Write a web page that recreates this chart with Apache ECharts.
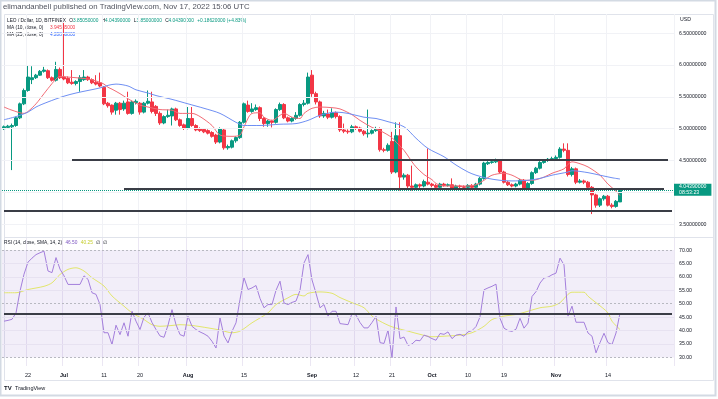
<!DOCTYPE html>
<html>
<head>
<meta charset="utf-8">
<title>LEO / Dollar, 1D</title>
<script src="https://cdn.jsdelivr.net/npm/echarts@6.0.0/dist/echarts.min.js"></script>
<style>
  html, body { margin: 0; padding: 0; background: #fff; }
  #chart { width: 718px; height: 399px; }
</style>
</head>
<body>
<div id="chart"></div>
<script>
// daily candles, LEO/USD (Bitfinex), 16 Jun 2022 .. 17 Nov 2022
const opens = [
  5.00, 5.02, 5.03, 5.05, 5.17, 5.39, 5.60, 5.77, 5.80, 5.84,
  5.90, 5.91, 5.80, 5.76, 5.93, 5.81, 5.79, 5.73, 5.71, 5.74,
  5.77, 5.81, 5.77, 5.73, 5.72, 5.65, 5.40, 5.37, 5.29, 5.40,
  5.31, 5.42, 5.24, 5.41, 5.40, 5.26, 5.40, 5.42, 5.35, 5.24,
  5.09, 5.19, 5.20, 5.31, 5.14, 5.06, 5.01, 5.16, 5.05, 5.00,
  4.99, 4.97, 4.94, 4.90, 4.79, 4.98, 4.70, 4.71, 4.81, 4.86,
  5.10, 5.37, 5.27, 5.30, 5.33, 5.16, 5.08, 5.12, 5.10, 5.30,
  5.38, 5.17, 5.12, 5.16, 5.21, 5.38, 5.40, 5.84, 5.55, 5.42,
  5.20, 5.23, 5.18, 5.25, 5.19, 4.98, 4.96, 4.95, 5.03, 5.01,
  4.96, 4.92, 4.93, 4.97, 5.00, 4.67, 4.66, 4.80, 4.32, 4.89,
  4.24, 4.27, 4.10, 4.08, 4.12, 4.10, 4.16, 4.13, 4.11, 4.08,
  4.13, 4.11, 4.12, 4.07, 4.10, 4.09, 4.08, 4.11, 4.08, 4.13,
  4.22, 4.45, 4.47, 4.48, 4.50, 4.32, 4.16, 4.12, 4.10, 4.13,
  4.19, 4.07, 4.14, 4.31, 4.38, 4.47, 4.50, 4.52, 4.53, 4.55,
  4.68, 4.66, 4.28, 4.37, 4.16, 4.18, 4.16, 4.08, 3.96, 3.80,
  3.90, 3.94, 3.80, 3.78, 3.8505
];
const closes = [
  5.03, 5.04, 5.05, 5.17, 5.39, 5.60, 5.81, 5.80, 5.84, 5.90,
  5.92, 5.80, 5.76, 5.93, 5.80, 5.78, 5.72, 5.71, 5.74, 5.80,
  5.81, 5.77, 5.72, 5.70, 5.67, 5.39, 5.36, 5.26, 5.40, 5.30,
  5.40, 5.24, 5.42, 5.43, 5.26, 5.40, 5.43, 5.27, 5.24, 5.09,
  5.19, 5.21, 5.31, 5.14, 5.05, 5.01, 5.16, 5.05, 4.98, 4.97,
  4.95, 4.93, 4.88, 4.79, 5.00, 4.70, 4.72, 4.81, 4.86, 5.10,
  5.39, 5.27, 5.31, 5.33, 5.16, 5.08, 5.12, 5.10, 5.30, 5.38,
  5.17, 5.12, 5.16, 5.21, 5.38, 5.40, 5.81, 5.55, 5.42, 5.20,
  5.24, 5.18, 5.25, 5.19, 4.98, 4.96, 4.95, 5.03, 5.01, 4.96,
  4.92, 4.93, 4.97, 5.00, 4.67, 4.66, 4.74, 4.32, 4.89, 4.24,
  4.27, 4.10, 4.08, 4.12, 4.10, 4.17, 4.13, 4.11, 4.08, 4.13,
  4.11, 4.12, 4.07, 4.10, 4.09, 4.08, 4.11, 4.08, 4.13, 4.22,
  4.46, 4.47, 4.48, 4.50, 4.32, 4.16, 4.12, 4.10, 4.13, 4.19,
  4.07, 4.14, 4.31, 4.38, 4.47, 4.50, 4.52, 4.53, 4.55, 4.68,
  4.66, 4.28, 4.37, 4.16, 4.18, 4.16, 4.08, 3.96, 3.80, 3.90,
  3.94, 3.80, 3.78, 3.86, 4.0439
];
const highs = [
  5.05, 5.06, 5.08, 5.19, 5.41, 5.63, 5.99, 5.98, 5.86, 5.92,
  5.97, 5.93, 5.82, 6.05, 5.96, 6.66, 5.82, 5.92, 5.76, 5.84,
  5.92, 5.83, 5.79, 5.84, 5.88, 5.67, 5.42, 5.38, 5.42, 5.42,
  5.44, 5.58, 5.44, 5.46, 5.42, 5.42, 5.60, 5.58, 5.37, 5.27,
  5.21, 5.30, 5.33, 5.33, 5.16, 5.08, 5.34, 5.34, 5.07, 5.02,
  5.01, 4.99, 4.96, 4.92, 5.02, 5.00, 4.75, 4.83, 4.88, 5.12,
  5.41, 5.44, 5.40, 5.38, 5.35, 5.18, 5.14, 5.14, 5.32, 5.41,
  5.40, 5.19, 5.18, 5.26, 5.40, 5.45, 5.88, 5.92, 5.58, 5.44,
  5.28, 5.30, 5.32, 5.27, 5.21, 5.08, 4.99, 5.06, 5.05, 5.03,
  4.98, 5.30, 4.99, 5.03, 5.02, 4.70, 4.77, 4.95, 5.10, 5.10,
  4.30, 4.29, 4.42, 4.14, 4.14, 4.20, 4.69, 4.15, 4.13, 4.15,
  4.15, 4.14, 4.22, 4.12, 4.12, 4.11, 4.13, 4.13, 4.15, 4.24,
  4.48, 4.49, 4.50, 4.53, 4.51, 4.34, 4.18, 4.14, 4.15, 4.21,
  4.21, 4.16, 4.33, 4.40, 4.49, 4.52, 4.54, 4.56, 4.58, 4.71,
  4.77, 4.77, 4.40, 4.39, 4.21, 4.20, 4.18, 4.10, 3.98, 3.92,
  3.96, 3.96, 3.83, 3.88, 4.0439
];
const lows = [
  4.98, 5.00, 4.35, 5.03, 5.15, 5.37, 5.58, 5.70, 5.78, 5.83,
  5.88, 5.78, 5.74, 5.74, 5.78, 5.76, 5.70, 5.69, 5.68, 5.58,
  5.75, 5.75, 5.70, 5.68, 5.65, 5.37, 5.33, 5.22, 5.22, 5.22,
  5.28, 5.22, 5.22, 5.38, 5.22, 5.24, 5.38, 5.24, 5.20, 5.06,
  5.07, 5.17, 5.05, 5.12, 5.03, 4.98, 4.99, 5.03, 4.96, 4.95,
  4.93, 4.91, 4.86, 4.76, 4.77, 4.67, 4.67, 4.69, 4.78, 4.84,
  5.08, 5.25, 5.25, 5.28, 5.12, 5.03, 5.03, 5.02, 5.08, 5.28,
  5.15, 5.10, 5.10, 5.14, 5.19, 5.35, 5.38, 5.50, 5.38, 5.17,
  5.17, 5.15, 5.16, 5.16, 4.95, 4.93, 4.92, 4.93, 4.98, 4.94,
  4.89, 4.86, 4.91, 4.95, 4.64, 4.63, 4.64, 4.29, 4.30, 4.03,
  4.20, 4.07, 4.03, 4.05, 4.07, 4.08, 4.11, 4.08, 4.06, 4.06,
  4.09, 4.09, 4.05, 4.05, 4.07, 4.06, 4.06, 4.06, 4.06, 4.11,
  4.20, 4.43, 4.45, 4.46, 4.30, 4.14, 4.10, 4.08, 4.08, 4.11,
  4.05, 4.05, 4.12, 4.29, 4.36, 4.45, 4.48, 4.50, 4.51, 4.53,
  4.63, 4.25, 4.25, 4.13, 4.14, 4.13, 4.05, 3.66, 3.76, 3.77,
  3.87, 3.78, 3.75, 3.76, 3.85
];

// moving averages: [day index, value]
const ma10Points = [
  [0, 5.34], [2, 5.29], [5, 5.24], [6, 5.27], [8, 5.39], [10, 5.55], [11, 5.63],
  [13, 5.78], [14, 5.82], [16, 5.81], [18, 5.80], [21, 5.78], [23, 5.75], [25, 5.70],
  [26, 5.65], [27, 5.62], [29, 5.55], [31, 5.47], [34, 5.37], [36, 5.34], [39, 5.30],
  [42, 5.29], [44, 5.24], [47, 5.24], [49, 5.19], [52, 5.05], [54, 4.90], [57, 4.88],
  [59, 4.90], [60, 5.03], [62, 5.24], [64, 5.25], [65, 5.18], [67, 5.13], [69, 5.21],
  [70, 5.24], [72, 5.18], [74, 5.16], [75, 5.24], [77, 5.32], [79, 5.34], [82, 5.33],
  [84, 5.31], [87, 5.22], [89, 5.13], [92, 5.02], [94, 4.97], [97, 4.86], [98, 4.79],
  [100, 4.66], [102, 4.48], [103, 4.40], [105, 4.28], [107, 4.20], [108, 4.14],
  [110, 4.10], [113, 4.10], [116, 4.10], [118, 4.12], [120, 4.19], [122, 4.27],
  [125, 4.30], [127, 4.27], [130, 4.19], [132, 4.19], [135, 4.24], [137, 4.30],
  [140, 4.37], [141, 4.44], [142, 4.48], [144, 4.45], [146, 4.40], [149, 4.27],
  [151, 4.13], [153, 4.02], [154, 3.95]
];
const ma25Points = [
  [0, 5.14], [3, 5.19], [6, 5.26], [8, 5.34], [11, 5.42], [15, 5.51], [18, 5.56],
  [21, 5.60], [24, 5.64], [26, 5.68], [28, 5.70], [31, 5.67], [33, 5.61], [36, 5.56],
  [38, 5.52], [42, 5.46], [46, 5.39], [50, 5.32], [54, 5.24], [58, 5.10], [60, 5.05],
  [64, 5.05], [69, 5.07], [73, 5.08], [76, 5.13], [79, 5.21], [83, 5.26], [86, 5.24],
  [90, 5.18], [93, 5.16], [96, 5.11], [100, 5.03], [103, 4.85], [106, 4.69],
  [110, 4.56], [113, 4.43], [116, 4.32], [118, 4.27], [121, 4.22], [124, 4.19],
  [127, 4.18], [131, 4.19], [134, 4.22], [137, 4.27], [141, 4.32], [142, 4.34],
  [146, 4.31], [149, 4.27], [152, 4.23], [154, 4.21]
];

const rsiValues = [
  43.5, 43.8, 44.2, 46.6, 54.7, 61, 65.5, 67, 68.3, 69,
  69.6, 62.2, 61.6, 67.2, 62.9, 60.4, 57.2, 57.2, 57.2, 57.2,
  60.4, 59.1, 54.1, 53.5, 49.7, 39.2, 39.2, 34.8, 42, 38.5,
  42.9, 37.9, 47.2, 43.5, 40.4, 45, 46.6, 43, 40.4, 38,
  37.5, 42, 47.8, 42.2, 38.5, 37.9, 45.3, 41.6, 40.4, 39.5,
  38.8, 37.9, 36.0, 33.5, 44.7, 38, 35.4, 39.7, 42.9, 51.6,
  59.7, 55.3, 55.9, 56.8, 52, 48.5, 49.7, 49.7, 55, 58.4,
  50.3, 49.7, 50.5, 51.0, 55, 65.2, 68.3, 58.9, 53.9, 48.5,
  49.7, 45.4, 47.2, 47.2, 42.6, 42.4, 42.2, 46.3, 45.8, 43,
  41.0, 41.0, 43, 45.3, 35.5, 35.2, 40.2, 29.9, 48.8, 37.0,
  37.6, 34.5, 35, 36.4, 36.2, 38.3, 37.8, 37, 36.4, 38.9,
  38.6, 39.5, 37.0, 38.3, 38.6, 37.9, 39.5, 40, 41.5, 45.1,
  55.2, 55.9, 56.5, 57.3, 44.6, 40.9, 40, 39.7, 40.5, 44.6,
  40.9, 42.8, 52.7, 54.5, 57.7, 59.6, 59.9, 60.8, 61.4, 67.0,
  64.5, 45.4, 49.1, 43.1, 43.1, 43.1, 39.1, 37.9, 31.7, 35.5,
  39.0, 35.5, 34.8, 39.1, 46.5
];
const rsiSmaPoints = [
  [0, 54.1], [3, 54.1], [6, 55.3], [10, 56.5], [12, 57.8], [14, 60.9], [16, 62.8],
  [18, 63.4], [20, 62.2], [22, 59.7], [25, 56.6], [27, 52.9], [30, 49.1], [32, 46.6],
  [35, 44.1], [37, 42.2], [39, 41.6], [42, 41.9], [44, 42.2], [47, 41.9], [51, 41.0],
  [54, 40.2], [57, 39.2], [59, 39.8], [62, 42.9], [66, 46.6], [68, 49.7], [71, 52.2],
  [73, 53.5], [75, 52.9], [76, 53.9], [79, 54.4], [82, 53.9], [84, 52.3], [87, 50.4],
  [90, 48.5], [92, 45.4], [94, 43.5], [97, 41.4], [101, 39.8], [104, 38.6],
  [107, 37.7], [111, 38.0], [114, 38.3], [117, 39.2], [120, 41.6], [122, 44.1],
  [125, 45.4], [128, 46.0], [131, 47.2], [134, 48.5], [137, 49.1], [139, 50.4],
  [141, 53.5], [142, 54.3], [145, 54.3], [146, 52.8], [148, 50.4], [151, 46.6],
  [152, 43.5], [154, 40.4]
];

// drawn horizontal levels: price, first day index, last day index
const levelPrices = [4.52, 4.06, 3.71];
const levelFrom = [17, 30, 0];
const levelTo = [166, 165, 167];
const rsiLevel = 46.3;

const priceTicks = [3.5, 4.0, 4.5, 5.0, 5.5, 6.0, 6.5];
const rsiTicks = [30, 35, 40, 45, 50, 55, 60, 65, 70];
const tickDates = ['2022-06-22', '2022-07-01', '2022-07-11', '2022-07-20', '2022-08-01',
  '2022-08-15', '2022-09-01', '2022-09-12', '2022-09-21', '2022-10-01', '2022-10-10',
  '2022-10-19', '2022-11-01', '2022-11-14'];
const tickText = ['22', 'Jul', '11', '20', 'Aug', '15', 'Sep', '12', '21', 'Oct', '10',
  '19', 'Nov', '14'];

const lastPrice = '4.04390000';
const countdown = '08:53:23';

// day slots: the data days plus empty room on the right like TradingView
const dayCount = 168;
const categories = [];
for (let i = 0; i < dayCount; i++) {
  const d = new Date(Date.UTC(2022, 5, 16 + i));
  categories.push(d.toISOString().slice(0, 10));
}

const FONT = 'Liberation Sans';
const UP = '#089981';
const DOWN = '#f23645';

const candleData = [];
for (let i = 0; i < closes.length; i++) {
  candleData.push([opens[i], closes[i], lows[i], highs[i]]);
}

const isTick = (index) => tickDates.indexOf(categories[index]) >= 0;

const levelLines = levelPrices.map((p, k) => [
  { coord: [levelFrom[k], p] },
  { coord: [levelTo[k], p] }
]);

let option = {
  animation: false,
  backgroundColor: '#ffffff',
  textStyle: { fontFamily: FONT },
  grid: [
    { left: 2, width: 672, top: 14, height: 223 },
    { left: 2, width: 672, top: 238, height: 128 }
  ],
  xAxis: [
    {
      type: 'category', gridIndex: 0, data: categories, boundaryGap: true,
      axisLine: { show: false }, axisTick: { show: false }, axisLabel: { show: false },
      splitLine: { show: true, interval: isTick, lineStyle: { color: '#f1f2f6' } }
    },
    {
      type: 'category', gridIndex: 1, data: categories, boundaryGap: true,
      axisLine: { show: false }, axisTick: { show: false },
      splitLine: { show: true, interval: isTick, lineStyle: { color: '#ebe7f3' } },
      axisLabel: {
        interval: isTick,
        margin: 6,
        formatter: function (value) {
          const k = tickDates.indexOf(value);
          if (k < 0) return '';
          return /[A-Za-z]/.test(tickText[k]) ? '{m|' + tickText[k] + '}' : '{d|' + tickText[k] + '}';
        },
        rich: {
          d: { fontSize: 5.5, color: '#131722', fontFamily: FONT },
          m: { fontSize: 5.5, color: '#131722', fontWeight: 'bold', fontFamily: FONT }
        }
      }
    }
  ],
  yAxis: [
    {
      type: 'value', gridIndex: 0, position: 'right', min: 3.3, max: 6.8,
      splitLine: { show: false }, axisLine: { show: false }, axisTick: { show: false },
      axisLabel: {
        customValues: priceTicks, margin: 5, fontSize: 5.2, color: '#131722',
        formatter: (v) => v.toFixed(8)
      }
    },
    {
      type: 'value', gridIndex: 1, position: 'right', min: 26.8, max: 74.5,
      splitLine: { show: false }, axisLine: { show: false }, axisTick: { show: false },
      axisLabel: {
        customValues: rsiTicks, margin: 5, fontSize: 5.2, color: '#131722',
        formatter: (v) => v.toFixed(2)
      }
    }
  ],
  series: [
    {
      name: 'LEO / Dollar',
      type: 'candlestick',
      xAxisIndex: 0, yAxisIndex: 0,
      data: candleData,
      barWidth: 3,
      itemStyle: { color: UP, color0: DOWN, borderColor: UP, borderColor0: DOWN, borderWidth: 1 },
      markLine: {
        silent: true,
        symbol: ['none', 'none'],
        label: { show: false },
        data: priceTicks.map((p) => ({
          yAxis: p, lineStyle: { color: '#f1f2f6', width: 1, type: 'solid' }
        })).concat(levelLines.map((l) => [
          Object.assign({ lineStyle: { color: '#3a3d46', width: 2, type: 'solid' } }, l[0]),
          l[1]
        ])).concat([{
          yAxis: 4.0439,
          lineStyle: { color: UP, width: 1, type: 'dotted' },
          label: {
            show: true, position: 'end', distance: 0,
            formatter: lastPrice + '\n' + countdown,
            backgroundColor: UP, color: '#ffffff', fontSize: 5.2, lineHeight: 6,
            padding: [0, 5, 0, 5], fontFamily: FONT
          }
        }])
      }
    },
    {
      name: 'MA 10',
      type: 'line', xAxisIndex: 0, yAxisIndex: 0,
      data: ma10Points, showSymbol: false, smooth: 0.3,
      lineStyle: { color: '#f26c76', width: 1 }, z: 3
    },
    {
      name: 'MA 25',
      type: 'line', xAxisIndex: 0, yAxisIndex: 0,
      data: ma25Points, showSymbol: false, smooth: 0.3,
      lineStyle: { color: '#6f8ff3', width: 1 }, z: 3
    },
    {
      name: 'RSI',
      type: 'line', xAxisIndex: 1, yAxisIndex: 1,
      data: rsiValues, showSymbol: false,
      lineStyle: { color: '#a47fdc', width: 1 }, z: 4,
      markArea: {
        silent: true,
        itemStyle: { color: 'rgba(126,87,194,0.1)' },
        data: [[{ yAxis: 30 }, { yAxis: 70 }]]
      },
      markLine: {
        silent: true,
        symbol: ['none', 'none'],
        label: { show: false },
        data: [35, 40, 45, 55, 60, 65].map((v) => ({
          yAxis: v, lineStyle: { color: '#e7e2f1', width: 1, type: 'solid' }
        })).concat([30, 50, 70].map((v) => ({
          yAxis: v, lineStyle: { color: '#b8b9c1', width: 1, type: [2, 2] }
        }))).concat([[
          { coord: [0, rsiLevel], lineStyle: { color: '#3a3d46', width: 2, type: 'solid' } },
          { coord: [167, rsiLevel] }
        ]])
      }
    },
    {
      name: 'RSI MA',
      type: 'line', xAxisIndex: 1, yAxisIndex: 1,
      data: rsiSmaPoints, showSymbol: false, smooth: 0.3,
      lineStyle: { color: '#e2e66c', width: 1 }, z: 3
    }
  ],
  graphic: [
    // outer card and chart frame
    { type: 'rect', shape: { x: 0.5, y: 0.5, width: 715, height: 395 }, style: { fill: 'none', stroke: '#d3dae3', lineWidth: 2 }, silent: true },
    { type: 'rect', shape: { x: 4.5, y: 14.5, width: 709, height: 366 }, style: { fill: 'none', stroke: '#e0e3eb', lineWidth: 1 }, silent: true },
    { type: 'line', shape: { x1: 4, y1: 237.5, x2: 713, y2: 237.5 }, style: { stroke: '#e0e3eb', lineWidth: 1 }, silent: true },
    {
      type: 'text', x: 3, y: 7,
      style: { text: 'elimandanbell published on TradingView.com, Nov 17, 2022 15:06 UTC', fill: '#50535e', fontSize: 7.8, fontFamily: FONT, textVerticalAlign: 'middle' }
    },
    {
      type: 'text', x: 7, y: 20.5,
      style: {
        text: '{k|LEO / Dollar, 1D, BITFINEX} {k|O}{g|3.85050000} {k|H}{g|4.04390000} {k|L}{g|3.85000000} {k|C}{g|4.04390000} {g|+0.18620000 (+4.83%)}',
        textVerticalAlign: 'middle',
        rich: {
          k: { fill: '#131722', fontSize: 4.8, fontFamily: FONT },
          g: { fill: UP, fontSize: 4.8, fontFamily: FONT }
        }
      }
    },
    {
      type: 'text', x: 7, y: 27.8,
      style: {
        text: '{k|MA (10, close, 0)}  {r|3.94585000}', textVerticalAlign: 'middle',
        rich: { k: { fill: '#131722', fontSize: 4.8, fontFamily: FONT }, r: { fill: DOWN, fontSize: 4.8, fontFamily: FONT } }
      }
    },
    {
      type: 'text', x: 7, y: 34.8,
      style: {
        text: '{k|MA (25, close, 0)}  {b|4.20868800}', textVerticalAlign: 'middle',
        rich: { k: { fill: '#131722', fontSize: 4.8, fontFamily: FONT }, b: { fill: '#2962ff', fontSize: 4.8, fontFamily: FONT } }
      }
    },
    {
      type: 'text', x: 4, y: 242.7,
      style: {
        text: '{k|RSI (14, close, SMA, 14, 2)} {p|46.50} {y|40.25} {k|∅} {k|∅}', textVerticalAlign: 'middle',
        rich: {
          k: { fill: '#131722', fontSize: 4.8, fontFamily: FONT },
          p: { fill: '#7e57c2', fontSize: 4.8, fontFamily: FONT },
          y: { fill: '#c4cc2a', fontSize: 4.8, fontFamily: FONT }
        }
      }
    },
    {
      type: 'text', x: 680, y: 20,
      style: { text: 'USD', fill: '#131722', fontSize: 5.2, fontFamily: FONT, textVerticalAlign: 'middle' }
    },
    {
      type: 'text', x: 4, y: 388,
      style: {
        text: '{l|TV} {t|TradingView}', textVerticalAlign: 'middle',
        rich: {
          l: { fill: '#131722', fontSize: 6, fontWeight: 'bold', fontFamily: FONT },
          t: { fill: '#131722', fontSize: 5.5, fontFamily: FONT }
        }
      }
    }
  ]
};

const myChart = echarts.init(document.getElementById('chart'));
myChart.setOption(option);
</script>
</body>
</html>
